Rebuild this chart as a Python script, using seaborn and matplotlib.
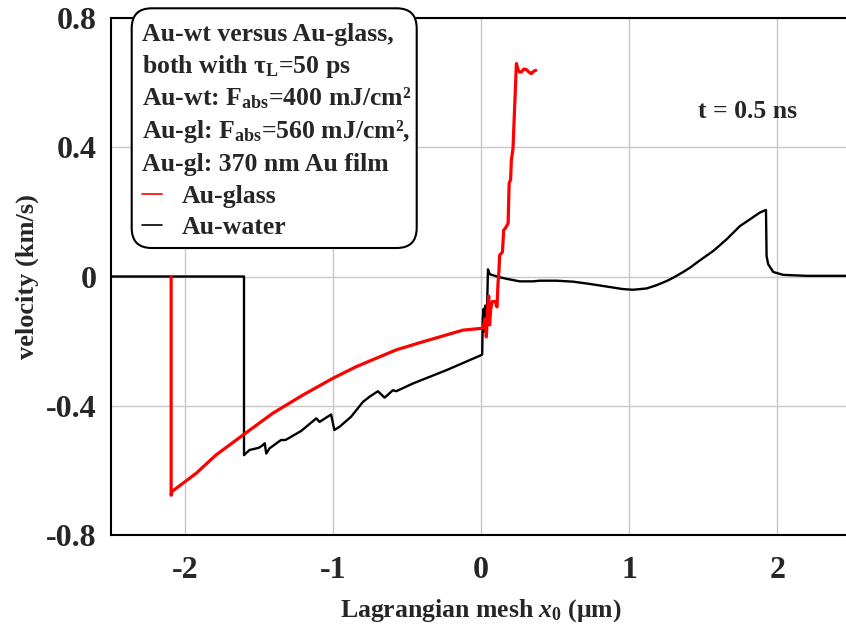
import numpy as np
import pandas as pd
import seaborn as sns
import matplotlib
matplotlib.use("Agg")
import matplotlib.pyplot as plt
from matplotlib.lines import Line2D
from matplotlib.patches import FancyBboxPatch

# Velocity profiles at t = 0.5 ns versus Lagrangian coordinate (um -> km/s)
glass_x = [-2.092, -2.092, -2.085, -1.923, -1.788, -1.608, -1.405, -1.203, -1.0,
           -0.842, -0.707, -0.572, -0.392, -0.257, -0.122, 0.014, 0.028, 0.036,
           0.046, 0.052, 0.058, 0.066, 0.075, 0.095, 0.108, 0.115, 0.121, 0.126,
           0.145, 0.153, 0.165, 0.183, 0.19, 0.2, 0.205, 0.216, 0.225, 0.239, 0.25,
           0.26, 0.273, 0.29, 0.307, 0.325, 0.34, 0.355, 0.37]
glass_v = [0.0, -0.677, -0.665, -0.609, -0.552, -0.491, -0.423, -0.367, -0.315,
           -0.279, -0.253, -0.227, -0.202, -0.184, -0.166, -0.160, -0.13, -0.187,
           -0.09, -0.06, -0.15, -0.10, -0.078, -0.077, -0.094, -0.02, 0.015, 0.066,
           0.076, 0.143, 0.15, 0.164, 0.288, 0.30, 0.36, 0.396, 0.50, 0.659, 0.64,
           0.633, 0.633, 0.642, 0.64, 0.632, 0.628, 0.635, 0.638]

water_x = [-2.5, -1.60, -1.60, -1.563, -1.50, -1.473, -1.46, -1.45, -1.428, -1.35,
           -1.32, -1.214, -1.112, -1.09, -1.012, -0.99, -0.955, -0.877, -0.797,
           -0.752, -0.696, -0.651, -0.595, -0.572, -0.459, -0.234, 0.003, 0.008,
           0.012, 0.018, 0.022, 0.028, 0.033, 0.040, 0.047, 0.059, 0.115, 0.171,
           0.261, 0.351, 0.397, 0.509, 0.622, 0.734, 0.847, 0.959, 1.027, 1.118,
           1.185, 1.253, 1.297, 1.365, 1.41, 1.478, 1.568, 1.658, 1.748, 1.816,
           1.883, 1.924, 1.928, 1.939, 1.973, 2.04, 2.2, 2.5]
water_v = [0.0, 0.0, -0.553, -0.537, -0.53, -0.522, -0.516, -0.548, -0.532, -0.506,
           -0.506, -0.478, -0.439, -0.45, -0.427, -0.475, -0.465, -0.434, -0.388,
           -0.372, -0.355, -0.375, -0.352, -0.355, -0.331, -0.29, -0.243, -0.241,
           -0.13, -0.10, -0.17, -0.09, -0.16, -0.12, 0.022, 0.007, -0.001, -0.007,
           -0.015, -0.015, -0.013, -0.013, -0.016, -0.023, -0.031, -0.039, -0.041,
           -0.037, -0.027, -0.014, -0.004, 0.014, 0.027, 0.050, 0.079, 0.115, 0.156,
           0.177, 0.198, 0.206, 0.063, 0.038, 0.014, 0.005, 0.002, 0.002]

x_ticks = [-2, -1, 0, 1, 2]
x_tick_labels = ["-2", "-1", "0", "1", "2"]
y_ticks = [-0.8, -0.4, 0, 0.4, 0.8]
y_tick_labels = ["-0.8", "-0.4", "0", "0.4", "0.8"]

info_lines = [
    "Au-wt versus Au-glass,",
    r"both with τ$_{\mathrm{L}}$=50 ps",
    r"Au-wt: F$_{\mathrm{abs}}$=400 mJ/cm²",
    r"Au-gl: F$_{\mathrm{abs}}$=560 mJ/cm²,",
    "Au-gl: 370 nm Au film",
]
series_labels = ["Au-glass", "Au-water"]
series_colors = ["#ff0000", "#000000"]

sns.set_theme(style="white")
plt.rcParams.update({
    "font.family": ["Liberation Serif", "DejaVu Serif"],
    "font.weight": "bold",
    "axes.labelweight": "bold",
    "mathtext.fontset": "custom",
    "mathtext.rm": "Liberation Serif:bold",
    "mathtext.it": "Liberation Serif:bold:italic",
    "mathtext.bf": "Liberation Serif:bold",
    "axes.unicode_minus": False,
})

W, H, DPI = 846, 628, 100
fig = plt.figure(figsize=(W / DPI, H / DPI), dpi=DPI)
ax_left, ax_right, ax_top, ax_bottom = 110.7, 851.3, 18, 535
ax = fig.add_axes([ax_left / W, 1 - ax_bottom / H,
                   (ax_right - ax_left) / W, (ax_bottom - ax_top) / H])

df_w = pd.DataFrame({"x": water_x, "v": water_v})
df_g = pd.DataFrame({"x": glass_x, "v": glass_v})
sns.lineplot(data=df_w, x="x", y="v", sort=False, estimator=None,
             color=series_colors[1], lw=1.7, ax=ax, zorder=3)
sns.lineplot(data=df_g, x="x", y="v", sort=False, estimator=None,
             color=series_colors[0], lw=2.3, ax=ax, zorder=4)

ax.set_xlim(-2.5, 2.5)
ax.set_ylim(-0.8, 0.8)
ax.set_xticks(x_ticks)
ax.set_xticklabels(x_tick_labels)
ax.set_yticks(y_ticks)
ax.set_yticklabels(y_tick_labels)
ax.set_xticks([-1.5, -0.5, 0.5, 1.5], minor=True)
ax.set_yticks([-0.6, -0.2, 0.2, 0.6], minor=True)
ax.grid(True, which="major", color="#c8c8c8", lw=1.0)
ax.tick_params(which="major", direction="in", length=7, width=1.2, color="#b0b0b0",
               labelsize=23)
ax.tick_params(axis="x", which="major", pad=15)
ax.tick_params(axis="y", which="major", pad=10)
ax.tick_params(which="minor", direction="in", length=7, width=1.3, color="black")
for lab in ax.get_xticklabels() + ax.get_yticklabels():
    lab.set_fontweight("bold")

for side in ["left", "bottom", "top"]:
    ax.spines[side].set_visible(True)
    ax.spines[side].set_color("black")
    ax.spines[side].set_linewidth(1.5)
ax.spines["right"].set_visible(False)

ax.set_xlabel(r"Lagrangian mesh $x_0$ (μm)", fontsize=18.5, labelpad=9)
ax.set_ylabel("velocity (km/s)", fontsize=19, labelpad=5)

ax.text(698 / W, 1 - 112 / H, "t = 0.5 ns", transform=fig.transFigure,
        fontsize=18.5, fontweight="bold", va="center", ha="left")

# Rounded annotation box with run parameters
px = fig.dpi_scale_trans
box = FancyBboxPatch((131.7 / DPI, (H - 248) / DPI), (416.7 - 131.7) / DPI,
                     (248 - 8.3) / DPI, boxstyle="round,pad=0,rounding_size=0.2",
                     transform=px, facecolor="white", edgecolor="black", lw=1.5,
                     zorder=5)
fig.add_artist(box)

baselines = [40.7, 72.7, 105.5, 138.0, 171.0]
for text, yb in zip(info_lines, baselines):
    t = fig.text(141.7 / DPI, (H - yb) / DPI, text, transform=px, fontsize=18.5,
                 fontweight="bold", va="baseline", ha="left")
    t.set_zorder(6)

handles = [Line2D([], [], color=c, lw=1.2) for c in series_colors]
leg = fig.legend(handles, series_labels, loc="center left",
                 bbox_to_anchor=(141.7 / W, 1 - 212 / H), frameon=False,
                 fontsize=18.5, handlelength=0.78, handletextpad=0.78,
                 borderpad=0, borderaxespad=0, labelspacing=0.3)
for t in leg.get_texts():
    t.set_fontweight("bold")
leg.set_zorder(6)

fig.savefig("out.png", dpi=DPI)
